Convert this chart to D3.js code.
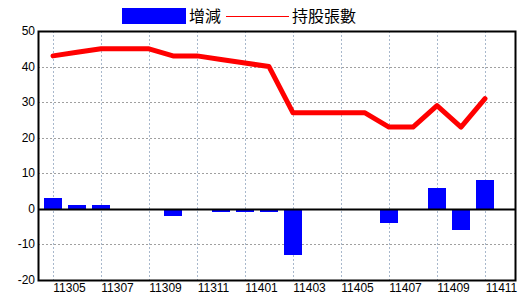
<!DOCTYPE html>
<html lang="zh-Hant">
<head>
<meta charset="utf-8">
<script src="https://cdn.jsdelivr.net/npm/d3@7"></script>
<style>
  body { margin: 0; background: #fff; }
  text { font-family: "Liberation Sans", Arial, sans-serif; }
</style>
</head>
<body>
<svg width="520" height="300"></svg>
<script>
    // months (ROC year + month)
    var months = ["11305","11306","11307","11308","11309","11310","11311","11312",
                  "11401","11402","11403","11404","11405","11406","11407","11408",
                  "11409","11410","11411"];
    // 增減 (bars)
    var change = [3, 1, 1, 0, 0, -2, 0, -1, -1, -1, -13, 0, 0, 0, -4, 0, 6, -6, 8];
    // 持股張數 (line)
    var holding = [43, 44, 45, 45, 45, 43, 43, 42, 41, 40, 27, 27, 27, 27, 23, 23, 29, 23, 31];
    var yTicks = [-20, -10, 0, 10, 20, 30, 40, 50];
    var xLabelMonths = ["11305","11307","11309","11311","11401","11403","11405","11407","11409","11411"];

    var svg = d3.select("svg");
    var plotLeft = 38, plotRight = 515, plotTop = 31, plotBottom = 280;

    var x = d3.scaleLinear().domain([0, months.length - 1]).range([53, 485]);
    var y = d3.scaleLinear().domain([-20, 50]).range([plotBottom, plotTop]);

    var g = svg.append("g");

    // horizontal grid (dotted)
    g.selectAll(".hgrid")
        .data(yTicks.filter(function(d){ return d != 0 && d != 50 && d != -20; }))
        .enter().append("line")
        .attr("x1", plotLeft).attr("x2", plotRight)
        .attr("y1", function(d){ return Math.round(y(d)) + 0.5; })
        .attr("y2", function(d){ return Math.round(y(d)) + 0.5; })
        .attr("stroke", "#a0a0a0")
        .attr("stroke-dasharray", "2,2");

    // vertical grid (every 2nd month)
    g.selectAll(".vgrid")
        .data(xLabelMonths)
        .enter().append("line")
        .attr("x1", function(d){ return Math.round(x(months.indexOf(d))) + 0.5; })
        .attr("x2", function(d){ return Math.round(x(months.indexOf(d))) + 0.5; })
        .attr("y1", plotTop).attr("y2", plotBottom)
        .attr("stroke", "#a8b8cc")
        .attr("stroke-dasharray", "2,2");

    // bars
    g.selectAll(".bar")
        .data(change)
        .enter().append("rect")
        .attr("class", "bar")
        .attr("x", function(d, i){ return Math.round(x(i)) - 9; })
        .attr("width", 18)
        .attr("y", function(d){ return Math.round(y(Math.max(0, d))); })
        .attr("height", function(d){ return Math.abs(Math.round(y(d)) - Math.round(y(0))); })
        .attr("fill", "#0000ff")
        .attr("shape-rendering", "crispEdges");

    // zero line
    g.append("line")
        .attr("x1", plotLeft).attr("x2", plotRight)
        .attr("y1", Math.round(y(0)) + 0.5).attr("y2", Math.round(y(0)) + 0.5)
        .attr("stroke", "#000").attr("stroke-width", 2);

    // holding line
    var line = d3.line()
        .x(function(d, i){ return x(i); })
        .y(function(d){ return y(d); });
    g.append("path")
        .datum(holding)
        .attr("d", line)
        .attr("fill", "none")
        .attr("stroke", "#ff0000")
        .attr("stroke-width", 5)
        .attr("stroke-linejoin", "round")
        .attr("stroke-linecap", "round");

    // plot frame
    g.append("rect")
        .attr("x", plotLeft + 0.5).attr("y", plotTop + 0.5)
        .attr("width", plotRight - plotLeft).attr("height", plotBottom - plotTop)
        .attr("fill", "none").attr("stroke", "#000").attr("stroke-width", 2);

    // y labels
    g.selectAll(".ylab")
        .data(yTicks)
        .enter().append("text")
        .attr("x", plotLeft - 3)
        .attr("y", function(d){ return y(d) + 4; })
        .attr("text-anchor", "end")
        .attr("font-size", "12px")
        .text(function(d){ return d; });

    // x labels (drawn to the right of the grid line)
    g.selectAll(".xlab")
        .data(xLabelMonths)
        .enter().append("text")
        .attr("x", function(d){ return x(months.indexOf(d)) + 16.5; })
        .attr("y", 292)
        .attr("text-anchor", "middle")
        .attr("font-size", "12px")
        .text(function(d){ return d; });

    // legend
    var lg = svg.append("g");
    lg.append("rect").attr("x", 122).attr("y", 8).attr("width", 64).attr("height", 16).attr("fill", "#0000ff");
    lg.append("text").attr("x", 189).attr("y", 22).attr("font-size", "16px")
        .style("font-family", "'Noto Sans CJK TC', sans-serif").text("增減");
    lg.append("line").attr("x1", 226).attr("x2", 289).attr("y1", 16.5).attr("y2", 16.5)
        .attr("stroke", "#ff0000").attr("stroke-width", 1);
    lg.append("text").attr("x", 292).attr("y", 22).attr("font-size", "16px")
        .style("font-family", "'Noto Sans CJK TC', sans-serif").text("持股張數");
</script>
</body>
</html>
